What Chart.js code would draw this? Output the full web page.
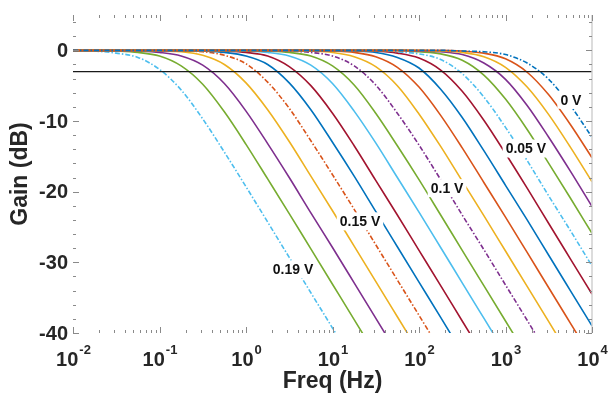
<!DOCTYPE html>
<html>
<head>
<meta charset="utf-8">
<script src="https://cdn.jsdelivr.net/npm/chart.js@4.4.1/dist/chart.umd.min.js"></script>
<style>
  html, body { margin: 0; padding: 0; background: #fff; }
  #wrap { width: 609px; height: 403px; }
</style>
</head>
<body>
<div id="wrap"><canvas id="gain-chart" width="609" height="403"></canvas></div>
<script>
// frequency grid (Hz), quarter decade steps
const freqs = [0.01, 0.0178, 0.0316, 0.0562, 0.1, 0.178, 0.316, 0.562, 1, 1.78, 3.16, 5.62,
  10, 17.8, 31.6, 56.2, 100, 178, 316, 562, 1000, 1780, 3160, 5620, 10000];

const voltages = ['0 V', '0.01 V', '0.02 V', '0.03 V', '0.04 V', '0.05 V', '0.06 V', '0.07 V', '0.08 V', '0.09 V',
  '0.1 V', '0.11 V', '0.12 V', '0.13 V', '0.14 V', '0.15 V', '0.16 V', '0.17 V', '0.18 V', '0.19 V'];

// gain (dB) read along the grid, one array per bias voltage
const gain000 = [0,0,0,0,0,0,0,0,0,0,0,0,0,0,0,0,0,0, -0.1, -0.2, -0.6, -1.8, -4.1, -7.8, -12.3];
const gain001 = [0,0,0,0,0,0,0,0,0,0,0,0,0,0,0,0,0,0, -0.1, -0.4, -1.2, -3.1, -6.3, -10.5, -15.2];
const gain002 = [0,0,0,0,0,0,0,0,0,0,0,0,0,0,0,0,0, -0.1, -0.3, -0.9, -2.4, -5.2, -9.1, -13.7, -18.6];
const gain003 = [0,0,0,0,0,0,0,0,0,0,0,0,0,0,0,0, -0.1, -0.2, -0.6, -1.8, -4.1, -7.8, -12.3, -17.1, -22.1];
const gain004 = [0,0,0,0,0,0,0,0,0,0,0,0,0,0,0,0, -0.2, -0.5, -1.4, -3.5, -6.9, -11.2, -16.0, -20.9, -25.9];
const gain005 = [0,0,0,0,0,0,0,0,0,0,0,0,0,0,0, -0.2, -0.5, -1.3, -3.3, -6.6, -10.9, -15.6, -20.6, -25.5, -30.5];
const gain006 = [0,0,0,0,0,0,0,0,0,0,0,0,0,0, -0.1, -0.4, -1.1, -2.8, -5.8, -9.9, -14.6, -19.5, -24.5, -29.5, -34.5];
const gain007 = [0,0,0,0,0,0,0,0,0,0,0,0,0, -0.1, -0.3, -1.0, -2.5, -5.5, -9.5, -14.2, -19.1, -24.0, -29.0, -34.0, -39.0];
const gain008 = [0,0,0,0,0,0,0,0,0,0,0,0, -0.1, -0.3, -0.9, -2.4, -5.2, -9.2, -13.8, -18.7, -23.6, -28.6, -33.6, -38.6, -43.6];
const gain009 = [0,0,0,0,0,0,0,0,0,0,0, -0.1, -0.3, -0.9, -2.3, -5.0, -9.0, -13.6, -18.5, -23.4, -28.4, -33.4, -38.4, -43.4];
const gain010 = [0,0,0,0,0,0,0,0,0,0, -0.1, -0.3, -0.8, -2.2, -4.9, -8.9, -13.4, -18.3, -23.3, -28.2, -33.2, -38.2, -43.2];
const gain011 = [0,0,0,0,0,0,0,0,0, -0.1, -0.3, -0.8, -2.2, -4.9, -8.9, -13.5, -18.3, -23.3, -28.3, -33.3, -38.3, -43.3];
const gain012 = [0,0,0,0,0,0,0,0, -0.1, -0.3, -0.8, -2.1, -4.7, -8.6, -13.1, -18.0, -22.9, -27.9, -32.9, -37.9, -42.9];
const gain013 = [0,0,0,0,0,0,0, -0.1, -0.3, -0.8, -2.3, -5.0, -8.9, -13.5, -18.4, -23.3, -28.3, -33.3, -38.3, -43.3];
const gain014 = [0,0,0,0,0,0, -0.1, -0.3, -0.8, -2.0, -4.6, -8.4, -13.0, -17.8, -22.8, -27.8, -32.8, -37.8, -42.8];
const gain015 = [0,0,0,0,0, -0.1, -0.2, -0.7, -1.9, -4.5, -8.2, -12.8, -17.6, -22.5, -27.5, -32.5, -37.5, -42.5];
const gain016 = [0,0,0,0, -0.1, -0.2, -0.7, -2.0, -4.6, -8.4, -12.9, -17.8, -22.7, -27.7, -32.7, -37.7, -42.7];
const gain017 = [0,0,0, -0.1, -0.3, -0.8, -2.1, -4.7, -8.6, -13.2, -18.0, -23.0, -27.9, -32.9, -37.9, -42.9];
const gain018 = [0,0, -0.1, -0.3, -0.8, -2.2, -4.8, -8.7, -13.3, -18.2, -23.1, -28.1, -33.1, -38.1, -43.1];
const gain019 = [0, -0.1, -0.4, -1.0, -2.7, -5.6, -9.7, -14.4, -19.3, -24.3, -29.3, -34.3, -39.3, -44.3];

const curves = [gain000, gain001, gain002, gain003, gain004, gain005, gain006, gain007, gain008, gain009,
  gain010, gain011, gain012, gain013, gain014, gain015, gain016, gain017, gain018, gain019];

const cutoffLevel = -3;
const yTicks = [0, -10, -20, -30, -40];
const xDecades = [-2, -1, 0, 1, 2, 3, 4];

// matlab default line colours
const lineColors = ['#0072BD', '#D95319', '#EDB120', '#7E2F8E', '#77AC30', '#4DBEEE', '#A2142F'];

// labelled curves: text, freq, gain where the text sits
const curveLabels = [
  ['0 V', 5700, -7.0],
  ['0.05 V', 1720, -13.9],
  ['0.1 V', 211, -19.5],
  ['0.15 V', 20.8, -24.2],
  ['0.19 V', 3.5, -31.0]
];

var datasets = curves.map(function(g, i) {
  var dashed = (i % 5 === 0) || i === curves.length - 1;
  return {
    label: voltages[i],
    data: g.map(function(v, j) { return {x: freqs[j], y: v}; }),
    borderColor: lineColors[i % lineColors.length],
    borderWidth: 1.6,
    borderDash: dashed ? [5, 2, 1.5, 2] : [],
    pointRadius: 0,
    cubicInterpolationMode: 'monotone',
    fill: false
  };
});
datasets.push({
  label: '-3 dB',
  data: [{x: freqs[0], y: cutoffLevel}, {x: freqs[freqs.length - 1], y: cutoffLevel}],
  borderColor: '#1a1a1a',
  borderWidth: 1.2,
  pointRadius: 0,
  order: -1
});

const FONT = '"Liberation Sans", Arial, sans-serif';

const decoPlugin = {
  id: 'deco',
  afterDatasetsDraw: function(chart) {
    var ctx = chart.ctx, xs = chart.scales.x, ys = chart.scales.y;
    ctx.save();
    ctx.font = 'bold 14px ' + FONT;
    ctx.textAlign = 'center';
    ctx.textBaseline = 'middle';
    curveLabels.forEach(function(l) {
      var px = xs.getPixelForValue(l[1]);
      var py = ys.getPixelForValue(l[2]);
      var w = ctx.measureText(l[0]).width;
      ctx.fillStyle = '#fff';
      ctx.fillRect(px - w / 2 - 3, py - 9, w + 6, 18);
      ctx.fillStyle = '#111';
      ctx.fillText(l[0], px, py + 1);
    });
    ctx.restore();
  },
  afterDraw: function(chart) {
    var ctx = chart.ctx, a = chart.chartArea, xs = chart.scales.x, ys = chart.scales.y;
    ctx.save();
    // right border
    ctx.strokeStyle = '#d0d0d0';
    ctx.lineWidth = 1.5;
    ctx.beginPath();
    ctx.moveTo(a.right, a.top);
    ctx.lineTo(a.right, a.bottom);
    ctx.stroke();

    // inward ticks
    ctx.strokeStyle = '#8a8a8a';
    ctx.lineWidth = 1;
    ctx.beginPath();
    for (var v = -40; v <= 4; v += 2) {
      var py = Math.round(ys.getPixelForValue(v)) + 0.5;
      var len = (v % 10 === 0) ? 6 : 3;
      ctx.moveTo(a.left, py); ctx.lineTo(a.left + len, py);
      ctx.moveTo(a.right, py); ctx.lineTo(a.right - len, py);
    }
    xDecades.forEach(function(k) {
      for (var m = 1; m <= 9; m++) {
        if (k === 4 && m > 1) break;
        var px = Math.round(xs.getPixelForValue(m * Math.pow(10, k))) + 0.5;
        var len = m === 1 ? 6 : 3;
        ctx.moveTo(px, a.top); ctx.lineTo(px, a.top + len);
        ctx.moveTo(px, a.bottom); ctx.lineTo(px, a.bottom - len);
      }
    });
    ctx.stroke();

    // y tick labels
    ctx.fillStyle = '#262626';
    ctx.font = 'bold 20px ' + FONT;
    ctx.textAlign = 'right';
    ctx.textBaseline = 'middle';
    yTicks.forEach(function(t) {
      ctx.fillText(String(t), a.left - 5, ys.getPixelForValue(t) + 1);
    });

    // x tick labels with superscript exponent
    ctx.textAlign = 'left';
    ctx.textBaseline = 'alphabetic';
    xDecades.forEach(function(k) {
      var px = xs.getPixelForValue(Math.pow(10, k));
      ctx.font = 'bold 20px ' + FONT;
      var wb = ctx.measureText('10').width;
      ctx.font = 'bold 13px ' + FONT;
      var we = ctx.measureText(String(k)).width;
      var x0 = px - (wb + we) / 2;
      ctx.font = 'bold 20px ' + FONT;
      ctx.fillText('10', x0, a.bottom + 33);
      ctx.font = 'bold 13px ' + FONT;
      ctx.fillText(String(k), x0 + wb + 1, a.bottom + 21);
    });

    // axis titles
    ctx.font = 'bold 23px ' + FONT;
    ctx.textAlign = 'center';
    ctx.textBaseline = 'middle';
    ctx.fillText('Freq (Hz)', (a.left + a.right) / 2, 382);
    ctx.translate(21, (a.top + a.bottom) / 2);
    ctx.rotate(-Math.PI / 2);
    ctx.fillText('Gain (dB)', 0, 0);
    ctx.restore();
  }
};

var gainChart = new Chart(document.getElementById('gain-chart').getContext('2d'), {
  type: 'line',
  data: { datasets: datasets },
  options: {
    responsive: false,
    animation: false,
    layout: { padding: { left: 73, right: 17, top: 15, bottom: 70 } },
    plugins: { legend: { display: false }, tooltip: { enabled: false } },
    scales: {
      x: { type: 'logarithmic', min: 0.01, max: 10000, display: false },
      y: { type: 'linear', min: -40, max: 5, display: false }
    }
  },
  plugins: [decoPlugin]
});
</script>
</body>
</html>
